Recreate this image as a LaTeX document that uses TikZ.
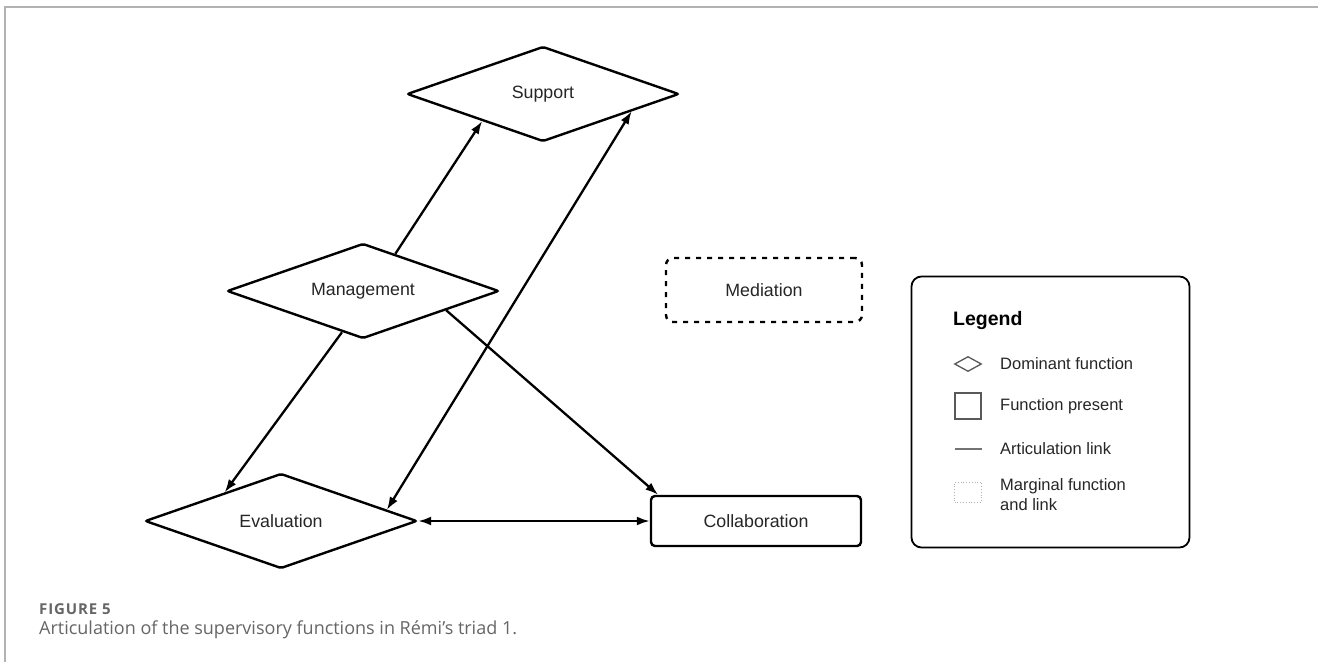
\documentclass[tikz,border=0pt]{standalone}
\usepackage{fontspec}
\setmainfont{Liberation Sans}
\newfontfamily\capfont{Open Sans}
\newfontfamily\capfontsp[LetterSpace=6]{Open Sans}
\usetikzlibrary{shapes.geometric,arrows.meta}
\begin{document}
\begin{tikzpicture}[x=1pt,y=-1pt,
  dom/.style={diamond, aspect=2.85, draw=black, line width=2.4pt, minimum width=272pt, minimum height=95pt,
    inner sep=0pt, rounded corners=2pt, font=\fontsize{17.8}{20}\selectfont, text=black!85},
  fp/.style={rectangle, draw=black, line width=2.4pt, rounded corners=4pt, minimum width=210pt,
    minimum height=50pt, font=\fontsize{17.8}{20}\selectfont, text=black!85},
  marg/.style={rectangle, draw=black, line width=2.4pt, dash pattern=on 5pt off 6pt, rounded corners=7pt,
    minimum width=196pt, minimum height=64pt, font=\fontsize{17.8}{20}\selectfont, text=black!85},
  link/.style={line width=2.3pt, -{Latex[length=13pt,width=9pt]}},
  blink/.style={line width=2.3pt, {Latex[length=13pt,width=9pt]}-{Latex[length=13pt,width=9pt]}},
  legtext/.style={anchor=west, font=\fontsize{16.5}{20}\selectfont, text=black!85, inner sep=0pt, align=left},
  captext/.style={anchor=west, inner sep=0pt, text=black!60}
]
\useasboundingbox (0,0) rectangle (1318,662);
\fill[white] (0,0) rectangle (1318,662);
% frame
\draw[black!30, line width=2pt] (4.5,662) -- (4.5,7) -- (1318,7);

% nodes
\node[dom] (supp) at (543,94) {Support};
\node[dom] (mgmt) at (363,291) {Management};
\node[dom] (eval) at (281,521) {Evaluation};
\node[marg] (med) at (764,290) {Mediation};
\node[fp] (coll) at (756,521) {Collaboration};

% connectors
\draw[link] (mgmt.49) -- (supp.204);
\draw[blink] (eval.6) -- (supp.349);
\draw[link] (mgmt.243) -- (eval.153);
\draw[link] (mgmt.347) -- (coll.165);
\draw[blink] (eval.east) -- (coll.west);

% legend
\node[draw=black, line width=1.8pt, rounded corners=10pt, minimum width=278pt, minimum height=271pt, inner sep=0pt] (leg) at (1050.5,412) {};
\node[anchor=west, inner sep=0pt, font=\fontsize{19.5}{22}\selectfont\bfseries] (legt) at (953,320) {Legend};
\node[diamond, draw=black!65, line width=1.3pt, minimum width=27pt, minimum height=15pt, inner sep=0pt] (ld) at (968,364) {};
\node[legtext] (ldt) at (1000,364) {Dominant function};
\node[draw=black!65, line width=1.3pt, minimum size=26pt, inner sep=0pt] (ls) at (968,406) {};
\node[legtext] (lst) at (1000,406) {Function present};
\coordinate (la) at (955,449);
\coordinate (lb) at (982,449);
\draw[black!55, line width=1.5pt] (la) -- (lb);
\node[legtext] (lat) at (1000,449) {Articulation link};
\node[draw=black!30, dotted, line width=0.8pt, minimum width=27pt, minimum height=20pt, inner sep=0pt] (lm) at (968,492) {};
\node[legtext] (lmt) at (1000,495) {Marginal function\\and link};

% caption
\node[captext, font=\capfontsp\fontsize{15}{17}\selectfont\bfseries] (cap1) at (39,609) {FIGURE 5};
\node[captext, font=\capfont\fontsize{18}{21}\selectfont] (cap2) at (39,630) {Articulation of the supervisory functions in Rémi’s triad 1.};
\end{tikzpicture}
\end{document}
